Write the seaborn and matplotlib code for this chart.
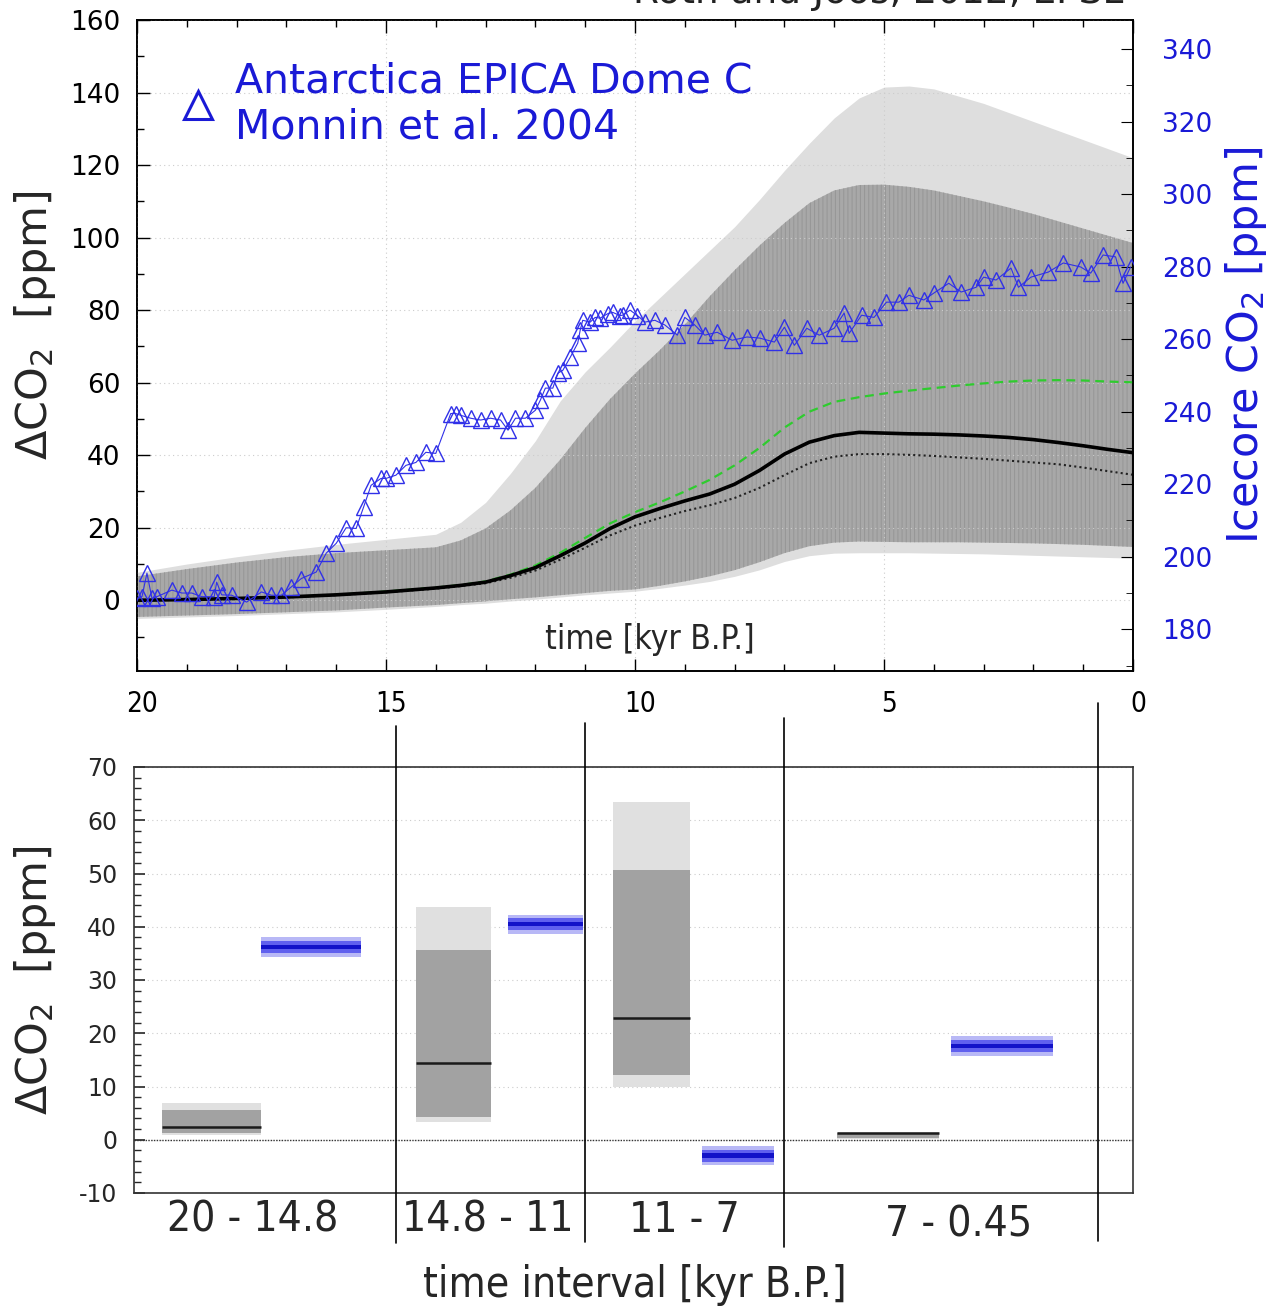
import numpy as np
import pandas as pd
import matplotlib
matplotlib.use('Agg')
import matplotlib.pyplot as plt
import matplotlib.transforms as mtransforms
from matplotlib.lines import Line2D
from matplotlib.ticker import MultipleLocator
import seaborn as sns

# ============================================================
# DATA
# ============================================================

# model ensemble, Delta CO2 [ppm] vs time [kyr B.P.]
model_age = [20, 19, 18, 17, 16, 15, 14, 13.5, 13, 12.5, 12, 11.5, 11, 10.5, 10, 9.5, 9, 8.5,
             8, 7.5, 7, 6.5, 6, 5.5, 5, 4.5, 4, 3.5, 3, 2.5, 2, 1.5, 1, 0.5, 0]
model_median = [0, 0.2, 0.5, 0.9, 1.5, 2.3, 3.4, 4.1, 5.0, 6.8, 9.0, 12.3, 15.8, 19.8, 23.0,
                25.3, 27.4, 29.3, 32.0, 35.8, 40.3, 43.6, 45.4, 46.3, 46.1, 45.9, 45.8, 45.6,
                45.3, 44.9, 44.3, 43.5, 42.6, 41.6, 40.7]
model_green = [0, 0.2, 0.5, 0.9, 1.5, 2.4, 3.5, 4.2, 5.2, 7.1, 9.6, 13.1, 17.2, 21.2, 24.3, 27.0,
               30.0, 33.2, 37.2, 42.0, 47.6, 52.0, 54.7, 56.0, 57.0, 57.8, 58.5, 59.2, 59.8,
               60.3, 60.6, 60.7, 60.6, 60.3, 60.1]
model_dotted = [0, 0.2, 0.4, 0.8, 1.4, 2.2, 3.2, 3.9, 4.7, 6.2, 8.2, 11.2, 14.5, 17.9, 20.6, 22.7,
                24.6, 26.2, 28.2, 31.0, 34.5, 37.8, 39.6, 40.3, 40.3, 40.1, 39.8, 39.4, 39.0,
                38.5, 38.0, 37.5, 36.6, 35.6, 34.6]
light_hi = [7.7, 10.0, 12.0, 13.8, 15.4, 16.8, 18.2, 21.5, 27.0, 35.0, 44.0, 55.0, 63.0, 69.8,
            77.0, 83.5, 90.0, 96.5, 103.0, 110.5, 118.5, 126.0, 133.0, 138.5, 141.5, 141.8,
            141.0, 139.0, 137.0, 134.5, 132.0, 129.5, 127.0, 124.5, 122.0]
dark_hi = [6.6, 8.6, 10.4, 11.9, 13.0, 13.8, 14.6, 16.5, 19.8, 24.8, 31.0, 38.8, 47.5, 55.5,
           62.5, 69.0, 76.0, 83.8, 91.0, 97.8, 104.0, 109.5, 113.0, 114.5, 114.6, 114.0, 113.0,
           111.5, 110.0, 108.3, 106.5, 104.5, 102.5, 100.5, 98.5]
dark_lo = [-4.6, -4.2, -3.8, -3.3, -2.8, -2.0, -1.3, -0.8, -0.3, 0.3, 0.8, 1.4, 2.0, 2.6, 3.0,
           4.0, 5.2, 6.6, 8.3, 10.5, 13.0, 14.9, 15.9, 16.2, 16.1, 16.0, 16.0, 16.0, 15.9, 15.8,
           15.7, 15.5, 15.3, 15.0, 14.7]
light_lo = [-5.0, -4.6, -4.2, -3.7, -3.2, -2.5, -1.7, -1.2, -0.8, -0.2, 0.3, 0.9, 1.5, 2.0, 2.5,
            3.3, 4.2, 5.2, 6.6, 8.4, 10.7, 12.3, 13.0, 13.1, 13.1, 13.1, 13.0, 12.9, 12.8, 12.6,
            12.4, 12.2, 12.0, 11.8, 11.6]

# EPICA Dome C ice core CO2 [ppm] (Monnin et al. 2004)
ice_age = [20.0, 19.9, 19.8, 19.7, 19.6, 19.3, 19.1, 18.9, 18.7, 18.45, 18.4, 18.3, 18.1, 17.8,
           17.5, 17.3, 17.1, 16.9, 16.7, 16.4, 16.2, 16.0, 15.8, 15.6, 15.45, 15.3, 15.1, 15.0,
           14.8, 14.6, 14.4, 14.2, 14.0, 13.7, 13.6, 13.5, 13.3, 13.1, 12.9, 12.7, 12.55, 12.4,
           12.2, 12.0, 11.9, 11.8, 11.65, 11.55, 11.45, 11.3, 11.15, 11.1, 11.05, 10.9, 10.8,
           10.7, 10.55, 10.45, 10.3, 10.25, 10.1, 9.95, 9.8, 9.6, 9.4, 9.15, 9.0, 8.8, 8.6, 8.35,
           8.05, 7.75, 7.5, 7.2, 7.0, 6.8, 6.55, 6.3, 6.0, 5.8, 5.7, 5.45, 5.2, 4.95, 4.7, 4.5,
           4.2, 4.0, 3.7, 3.45, 3.15, 3.0, 2.75, 2.45, 2.3, 2.05, 1.7, 1.4, 1.05, 0.85, 0.6, 0.35,
           0.2, 0.05]
ice_co2 = [188.5, 189.0, 195.5, 188.5, 189.0, 190.8, 190.0, 190.0, 189.0, 189.0, 193.0, 189.5,
           189.4, 187.5, 190.3, 189.4, 189.4, 191.7, 194.0, 195.8, 201.0, 203.7, 208.0, 207.8,
           213.7, 219.7, 221.6, 221.6, 222.5, 225.2, 226.0, 228.8, 228.5, 239.5, 239.5, 239.0,
           238.2, 237.7, 238.2, 237.7, 234.9, 238.2, 238.2, 240.4, 243.2, 246.5, 246.5, 250.6,
           251.4, 255.0, 258.9, 262.5, 265.2, 264.7, 266.0, 265.8, 267.0, 267.4, 266.5, 266.6,
           268.0, 266.5, 264.7, 265.2, 263.9, 261.1, 266.0, 263.9, 261.1, 261.9, 259.7, 260.6,
           260.3, 259.2, 263.3, 258.3, 263.0, 261.1, 263.0, 267.2, 261.6, 266.6, 266.0, 270.2,
           270.2, 272.1, 270.8, 272.7, 275.4, 273.0, 274.3, 277.1, 276.3, 279.6, 274.3, 277.1,
           278.5, 281.0, 279.9, 278.2, 283.2, 282.7, 275.4, 279.9]
ICE_OFFSET = 188  # right axis = left axis + offset

# interval summary (lower panel)
interval_labels = ['20 - 14.8', '14.8 - 11', '11 - 7', '7 - 0.45']
interval_mid = [17.67, 12.95, 9.0, 3.5]
separators = [14.8, 11.0, 7.0, 0.7]
box_start = [19.5, 14.4, 10.45, 5.95]
box_end = [17.5, 12.9, 8.9, 3.9]
box_light_lo = [0.9, 3.4, 9.9, 0.2]
box_light_hi = [6.9, 43.7, 63.4, 1.4]
box_dark_lo = [1.3, 4.3, 12.2, 0.3]
box_dark_hi = [5.6, 35.6, 50.7, 1.3]
box_median = [2.4, 14.4, 22.9, 1.2]
ice_start = [17.5, 12.55, 8.65, 3.65]
ice_end = [15.5, 11.05, 7.2, 1.6]
ice_delta = [36.2, 40.5, -3.0, 17.6]

# ============================================================
# STYLE
# ============================================================

sns.set_style('ticks')
plt.rcParams['font.family'] = ['DejaVu Sans']
plt.rcParams['hatch.linewidth'] = 0.7
plt.rcParams['axes.unicode_minus'] = False

BLUE = '#1a1ad6'
MARK = '#3030e8'
COND = dict(family='DejaVu Sans', stretch='condensed')

fig = plt.figure(figsize=(12.83, 13.07), dpi=100)

# ============================================================
# TOP PANEL
# ============================================================

ax = fig.add_axes([137 / 1283, 1 - 671 / 1307, 996 / 1283, 651 / 1307])
mdf = pd.DataFrame({'age': model_age, 'median': model_median, 'green': model_green,
                    'dotted': model_dotted})

ax.fill_between(model_age, light_lo, light_hi, color='#dedede', lw=0, zorder=1)
ax.fill_between(model_age, dark_lo, dark_hi, facecolor='#a8a8a8', edgecolor='#969696',
                hatch='||||', lw=0, zorder=2)
sns.lineplot(data=mdf, x='age', y='green', ax=ax, color='#2ecc2e', lw=1.6,
             linestyle=(0, (4, 2.5)), zorder=4)
sns.lineplot(data=mdf, x='age', y='dotted', ax=ax, color='#222222', lw=1.5,
             linestyle=(0, (1, 1.5)), zorder=4)
sns.lineplot(data=mdf, x='age', y='median', ax=ax, color='black', lw=2.6, zorder=5)

ax.set_xlim(20, 0)
ax.set_ylim(-19.5, 160)
ax.xaxis.set_major_locator(MultipleLocator(5))
ax.xaxis.set_minor_locator(MultipleLocator(1))
ax.yaxis.set_major_locator(MultipleLocator(20))
ax.yaxis.set_minor_locator(MultipleLocator(10))
ax.tick_params(axis='both', which='both', direction='in', top=True, bottom=True,
               right=False, colors='black')
ax.tick_params(axis='both', which='major', length=9, width=1)
ax.tick_params(axis='both', which='minor', length=5, width=1)
ax.tick_params(axis='y', labelsize=19, pad=12)
ax.tick_params(axis='x', labelsize=20, pad=14)
for lab in ax.get_xticklabels():
    lab.set_fontstretch('condensed')
    lab.set_transform(lab.get_transform() +
                      mtransforms.ScaledTranslation(5 / 100, 0, fig.dpi_scale_trans))
ax.grid(True, which='major', ls=(0, (1, 3)), lw=0.8, color='#cccccc')
ax.set_axisbelow(False)
ax.set_xlabel('')
ax.set_ylabel('')
for sp in ax.spines.values():
    sp.set_linewidth(1.2)
    sp.set_color('black')

ax.text(-0.102, 0.531, r'$\Delta$CO$_2$  [ppm]', rotation=90, ha='center', va='center',
        fontsize=31, transform=ax.transAxes)
ax.text(0.515, 0.048, 'time [kyr B.P.]', ha='center', va='center', fontsize=24,
        transform=ax.transAxes, **COND)

# ice core on right axis
ax2 = ax.twinx()
sns.lineplot(x=ice_age, y=ice_co2, ax=ax2, color=MARK, lw=0.8, marker='^', markersize=11,
             markerfacecolor='none', markeredgecolor=MARK, markeredgewidth=1.0,
             estimator=None, sort=False, zorder=6)
ax2.set_ylim(-19.5 + ICE_OFFSET, 160 + ICE_OFFSET)
ax2.yaxis.set_major_locator(MultipleLocator(20))
ax2.yaxis.set_minor_locator(MultipleLocator(10))
ax2.tick_params(axis='y', which='both', direction='in', colors='black', labelcolor=BLUE,
                labelsize=19, pad=21)
ax2.tick_params(axis='y', which='major', length=9)
ax2.tick_params(axis='y', which='minor', length=5)
ax2.set_ylabel('')
for sp in ax2.spines.values():
    sp.set_linewidth(1.2)
    sp.set_color('black')
ax2.text(1.113, 0.50, r'Icecore CO$_2$ [ppm]', rotation=90, ha='center', va='center',
         fontsize=31, color=BLUE, transform=ax.transAxes)

handle = Line2D([], [], ls='none', marker='^', markersize=20, markerfacecolor='none',
                markeredgecolor=BLUE, markeredgewidth=2.2)
leg = ax2.legend([handle], ['Antarctica EPICA Dome C\nMonnin et al. 2004'], loc='upper left',
                 bbox_to_anchor=(0.022, 0.962), frameon=False, fontsize=29.5, labelcolor=BLUE,
                 handletextpad=0.35, handlelength=1.1, borderaxespad=0)
for t in leg.get_texts():
    t.set_linespacing(1.2)

fig.text(1123 / 1283, 1 - 3 / 1307, 'Roth and Joos, 2012, EPSL', ha='right', va='baseline',
         fontsize=27, color='#222222')

# ============================================================
# BOTTOM PANEL
# ============================================================

bx = fig.add_axes([134 / 1283, 1 - 1193 / 1307, 999 / 1283, 426 / 1307])
bx.set_xlim(20.06, 0)
bx.set_ylim(-10, 70)

centers = [(a + b) / 2 for a, b in zip(box_start, box_end)]
widths = [a - b for a, b in zip(box_start, box_end)]
bx.bar(centers, np.subtract(box_light_hi, box_light_lo), bottom=box_light_lo, width=widths,
       color='#e0e0e0', lw=0, zorder=2)
bx.bar(centers, np.subtract(box_dark_hi, box_dark_lo), bottom=box_dark_lo, width=widths,
       color='#a2a2a2', lw=0, zorder=3)
bx.hlines(box_median, box_end, box_start, color='#1a1a1a', lw=1.8, zorder=4)

ice_c = [(a + b) / 2 for a, b in zip(ice_start, ice_end)]
ice_w = [a - b for a, b in zip(ice_start, ice_end)]
for hw, col in [(1.8, '#b8b8f6'), (1.1, '#6060ee'), (0.45, '#1212c8')]:
    bx.bar(ice_c, 2 * hw, bottom=np.subtract(ice_delta, hw), width=ice_w, color=col, lw=0,
           zorder=3)

bx.axhline(0, color='#333333', lw=1.0, ls=(0, (1, 1)), zorder=5)
bx.yaxis.set_major_locator(MultipleLocator(10))
bx.yaxis.set_minor_locator(MultipleLocator(2))
bx.grid(True, axis='y', which='major', ls=(0, (1, 3)), lw=0.8, color='#cccccc')
bx.tick_params(axis='x', which='both', bottom=False, top=False, labelbottom=False)
bx.tick_params(axis='y', which='both', direction='in', left=True, right=False, labelsize=17,
               pad=12)
bx.tick_params(axis='y', which='major', length=8, width=1.2)
bx.tick_params(axis='y', which='minor', length=5, width=1)
for sp in bx.spines.values():
    sp.set_linewidth(1.2)
    sp.set_color('#333333')

sep_top = [1.096, 1.103, 1.115, 1.150]
sep_bot = [-0.117, -0.115, -0.127, -0.113]
trans = mtransforms.blended_transform_factory(bx.transData, bx.transAxes)
for s, t, b in zip(separators, sep_top, sep_bot):
    bx.plot([s, s], [b, t], color='black', lw=1.2, transform=trans, clip_on=False, zorder=6)

label_y = [-0.063, -0.063, -0.063, -0.075]
for m, lab, yy in zip(interval_mid, interval_labels, label_y):
    bx.text(m, yy, lab, ha='center', va='center', fontsize=30.5, transform=trans, **COND)

bx.text((635 - 134) / 999, -(1285 - 1193) / 426, 'time interval [kyr B.P.]', ha='center',
        va='center', fontsize=30.5, transform=bx.transAxes, **COND)
bx.text(-0.099, 0.5, r'$\Delta$CO$_2$  [ppm]', rotation=90, ha='center', va='center',
        fontsize=31, transform=bx.transAxes)

plt.savefig('out.png', dpi=100)
